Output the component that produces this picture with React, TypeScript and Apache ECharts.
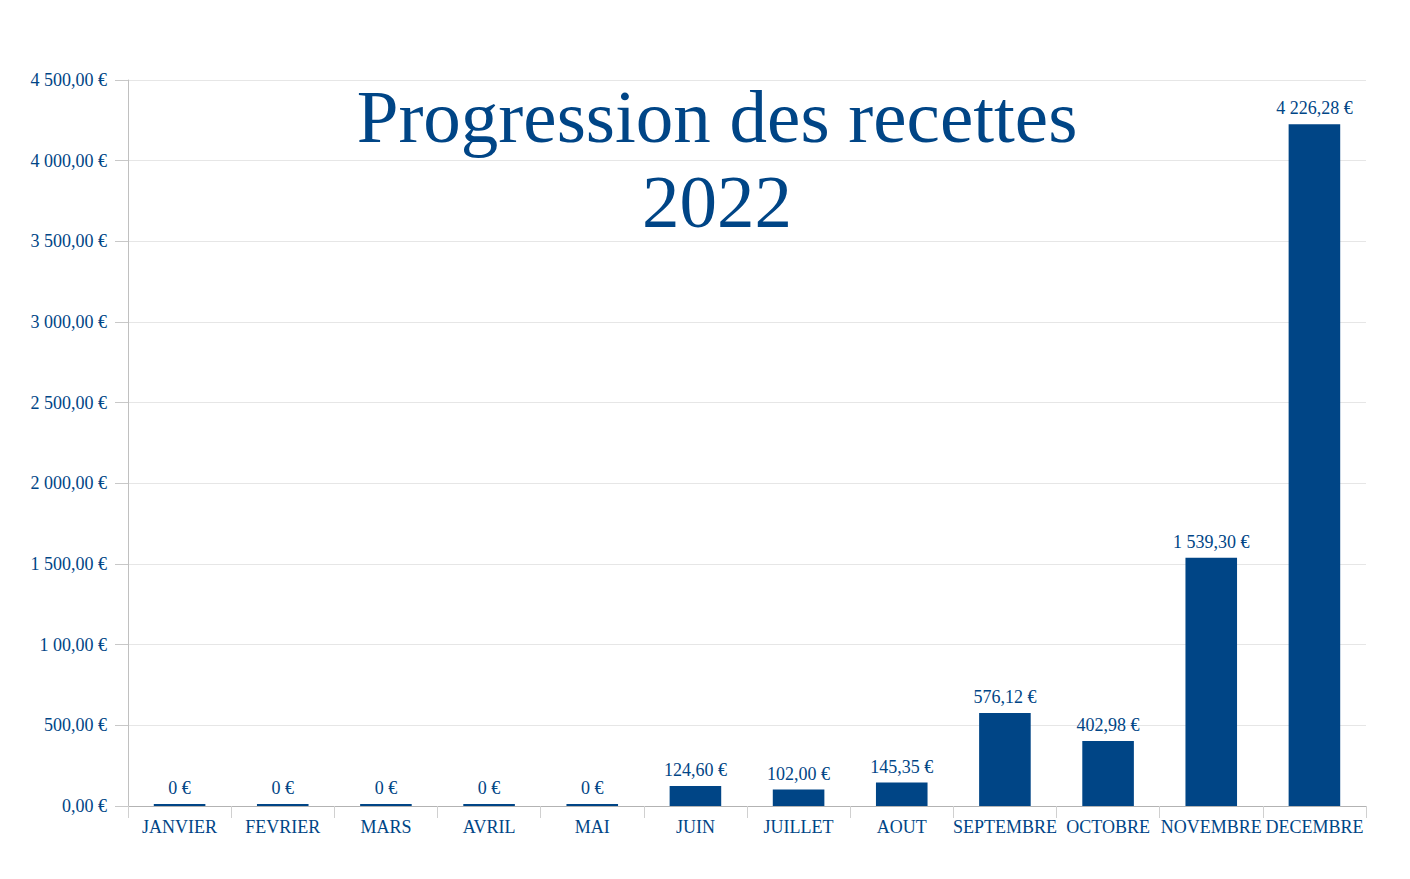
import React, { useEffect, useRef } from "react";
import * as echarts from "echarts";

const months = ["JANVIER", "FEVRIER", "MARS", "AVRIL", "MAI", "JUIN", "JUILLET", "AOUT", "SEPTEMBRE", "OCTOBRE", "NOVEMBRE", "DECEMBRE"];
const recettes = [0, 0, 0, 0, 0, 124.6, 102.0, 145.35, 576.12, 402.98, 1539.3, 4226.28];
const yTickLabels = ["0,00 €", "500,00 €", "1 00,00 €", "1 500,00 €", "2 000,00 €", "2 500,00 €", "3 000,00 €", "3 500,00 €", "4 000,00 €", "4 500,00 €"];
const titleLines = ["Progression des recettes", "2022"];

const BLUE = "#004586";
const FONT = "'Liberation Serif', 'Times New Roman', serif";

function formatEuro(v: number): string {
  if (v === 0) return "0 €";
  const [intPart, dec] = v.toFixed(2).split(".");
  const withSpaces = intPart.replace(/\B(?=(\d{3})+(?!\d))/g, " ");
  return `${withSpaces},${dec} €`;
}

export default function App() {
  const ref = useRef<HTMLDivElement>(null);
  useEffect(() => {
    if (!ref.current) return;
    const chart = echarts.init(ref.current, undefined, { renderer: "svg" });
    chart.setOption({
      animation: false,
      backgroundColor: "#ffffff",
      textStyle: { fontFamily: FONT },
      title: {
        text: titleLines.join("\n"),
        left: 712,
        top: 69,
        textAlign: "center",
        textStyle: { color: BLUE, fontFamily: FONT, fontSize: 75, fontWeight: "normal", lineHeight: 85 },
      },
      grid: { left: 128, right: 44, top: 80, bottom: 73, containLabel: false },
      xAxis: {
        type: "category",
        data: months,
        axisLine: { show: true, lineStyle: { color: "#b3b3b3", width: 1 } },
        axisTick: { show: true, alignWithLabel: false, length: 12, lineStyle: { color: "#d0d0d0" } },
        axisLabel: { color: BLUE, fontFamily: FONT, fontSize: 18, margin: 12, interval: 0 },
      },
      yAxis: {
        type: "value",
        min: 0,
        max: 4500,
        interval: 500,
        axisLine: { show: true, lineStyle: { color: "#c0c0c0", width: 1 } },
        axisTick: { show: true, length: 13, lineStyle: { color: "#c8c8c8" } },
        splitLine: { show: true, lineStyle: { color: "#e6e6e6", width: 1 } },
        axisLabel: {
          color: BLUE,
          fontFamily: FONT,
          fontSize: 18,
          margin: 21,
          formatter: (v: number) => yTickLabels[Math.round(v / 500)] ?? "",
        },
      },
      series: [
        {
          type: "bar",
          data: recettes,
          barWidth: "50%",
          barMinHeight: 2,
          itemStyle: { color: BLUE },
          label: {
            show: true,
            position: "top",
            distance: 7,
            color: BLUE,
            fontFamily: FONT,
            fontSize: 18,
            formatter: (p: any) => formatEuro(p.value as number),
          },
        },
      ],
    });
    return () => chart.dispose();
  }, []);
  return <div ref={ref} style={{ width: 1410, height: 879, position: "absolute", left: 0, top: 0 }} />;
}
